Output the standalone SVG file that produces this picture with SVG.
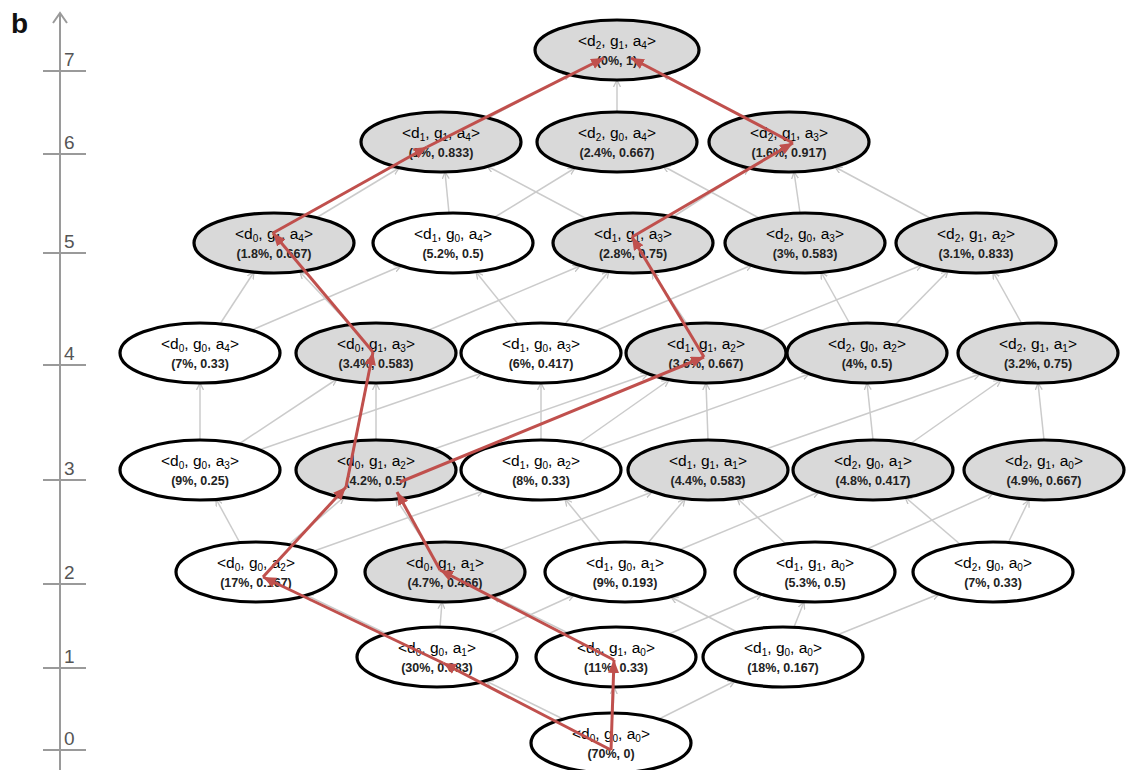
<svg xmlns="http://www.w3.org/2000/svg" width="1128" height="770" viewBox="0 0 1128 770">
<style>
.bg{fill:#fff}
.ax{stroke:#9a9a9a;stroke-width:2;fill:none}
.axl{font-family:"Liberation Sans",Arial,sans-serif;font-size:19px;fill:#555}
.lbl{font-family:"Liberation Sans",Arial,sans-serif;font-size:28px;font-weight:bold;fill:#111}
.gl line{stroke:#cbcbcb;stroke-width:1.5;marker-end:url(#ag)}
.rl line{stroke:#c0504d;stroke-width:3;marker-end:url(#ar)}
.node ellipse{stroke:#000;stroke-width:3.2}
.w{fill:#fff}
.g{fill:#d9d9d9}
.t1{font-family:"Liberation Sans",Arial,sans-serif;font-size:15.5px;text-anchor:middle;fill:#000}
.t2{font-family:"Liberation Sans",Arial,sans-serif;font-size:12.5px;font-weight:bold;text-anchor:middle;fill:#222}
.s{font-size:10px;baseline-shift:-3px}
</style>
<defs>
<marker id="ag" markerWidth="8" markerHeight="8" refX="7" refY="4" orient="auto" markerUnits="userSpaceOnUse"><path d="M0,0.5 L7,4 L0,7.5" fill="none" stroke="#c4c4c4" stroke-width="1.3"/></marker>
<marker id="ar" markerWidth="14" markerHeight="12" refX="13" refY="5.5" orient="auto" markerUnits="userSpaceOnUse"><path d="M0,0 L13,5.5 L0,11 z" fill="#c0504d"/></marker>
</defs>
<rect class="bg" x="0" y="0" width="1128" height="770"/>
<text class="lbl" x="11" y="33">b</text>
<g id="axis">
<line class="ax" x1="60" y1="770" x2="60" y2="14"/>
<path class="ax" d="M53,23 L60,13 L67,23"/>
<line class="ax" x1="43" y1="71" x2="86" y2="71"/>
<line class="ax" x1="43" y1="154" x2="86" y2="154"/>
<line class="ax" x1="43" y1="253" x2="86" y2="253"/>
<line class="ax" x1="43" y1="365" x2="86" y2="365"/>
<line class="ax" x1="43" y1="480" x2="86" y2="480"/>
<line class="ax" x1="43" y1="584" x2="86" y2="584"/>
<line class="ax" x1="43" y1="668" x2="86" y2="668"/>
<line class="ax" x1="43" y1="750" x2="86" y2="750"/>
<text class="axl" x="64" y="66">7</text>
<text class="axl" x="64" y="149">6</text>
<text class="axl" x="64" y="248">5</text>
<text class="axl" x="64" y="360">4</text>
<text class="axl" x="64" y="475">3</text>
<text class="axl" x="64" y="579">2</text>
<text class="axl" x="64" y="663">1</text>
<text class="axl" x="64" y="745">0</text>
</g>
<g id="connectors" class="gl">
<line x1="659" y1="719" x2="735" y2="681"/>
<line x1="563" y1="719" x2="486" y2="681"/>
<line x1="613" y1="713" x2="614" y2="687"/>
<line x1="440" y1="627" x2="442" y2="602"/>
<line x1="488" y1="634" x2="574" y2="595"/>
<line x1="387" y1="634" x2="306" y2="595"/>
<line x1="669" y1="634" x2="762" y2="594"/>
<line x1="568" y1="633" x2="493" y2="596"/>
<line x1="737" y1="632" x2="671" y2="597"/>
<line x1="794" y1="627" x2="804" y2="602"/>
<line x1="837" y1="635" x2="939" y2="594"/>
<line x1="240" y1="543" x2="216" y2="499"/>
<line x1="314" y1="551" x2="483" y2="491"/>
<line x1="288" y1="545" x2="344" y2="497"/>
<line x1="501" y1="550" x2="652" y2="492"/>
<line x1="425" y1="543" x2="396" y2="499"/>
<line x1="601" y1="543" x2="565" y2="499"/>
<line x1="648" y1="543" x2="685" y2="499"/>
<line x1="679" y1="550" x2="819" y2="492"/>
<line x1="786" y1="544" x2="737" y2="498"/>
<line x1="867" y1="549" x2="993" y2="493"/>
<line x1="961" y1="545" x2="905" y2="497"/>
<line x1="1008" y1="543" x2="1029" y2="500"/>
<line x1="200" y1="440" x2="200" y2="383"/>
<line x1="239" y1="444" x2="337" y2="379"/>
<line x1="259" y1="450" x2="482" y2="373"/>
<line x1="376" y1="440" x2="376" y2="383"/>
<line x1="434" y1="449" x2="648" y2="374"/>
<line x1="541" y1="440" x2="541" y2="383"/>
<line x1="578" y1="444" x2="669" y2="380"/>
<line x1="599" y1="449" x2="809" y2="374"/>
<line x1="708" y1="440" x2="706" y2="383"/>
<line x1="766" y1="449" x2="980" y2="374"/>
<line x1="873" y1="440" x2="867" y2="383"/>
<line x1="910" y1="444" x2="1001" y2="380"/>
<line x1="1044" y1="440" x2="1038" y2="383"/>
<line x1="220" y1="324" x2="254" y2="272"/>
<line x1="252" y1="330" x2="401" y2="266"/>
<line x1="350" y1="325" x2="300" y2="272"/>
<line x1="429" y1="330" x2="580" y2="266"/>
<line x1="518" y1="324" x2="476" y2="272"/>
<line x1="565" y1="324" x2="609" y2="271"/>
<line x1="595" y1="331" x2="752" y2="265"/>
<line x1="687" y1="324" x2="652" y2="272"/>
<line x1="760" y1="331" x2="922" y2="265"/>
<line x1="850" y1="324" x2="821" y2="272"/>
<line x1="895" y1="325" x2="948" y2="271"/>
<line x1="1022" y1="324" x2="993" y2="272"/>
<line x1="316" y1="218" x2="399" y2="168"/>
<line x1="449" y1="213" x2="445" y2="172"/>
<line x1="495" y1="217" x2="575" y2="168"/>
<line x1="587" y1="219" x2="487" y2="166"/>
<line x1="673" y1="217" x2="749" y2="168"/>
<line x1="759" y1="218" x2="663" y2="166"/>
<line x1="800" y1="213" x2="794" y2="172"/>
<line x1="930" y1="218" x2="835" y2="167"/>
<line x1="488" y1="118" x2="570" y2="74"/>
<line x1="617" y1="112" x2="617" y2="80"/>
<line x1="743" y1="117" x2="663" y2="74"/>
</g>
<g id="n214" class="node"><ellipse class="g" cx="617" cy="50" rx="82" ry="30"/><text class="t1" x="617" y="46">&lt;d<tspan class="s">2</tspan>, g<tspan class="s">1</tspan>, a<tspan class="s">4</tspan>&gt;</text><text class="t2" x="617" y="65">(0%, 1)</text></g>
<g id="n114" class="node"><ellipse class="g" cx="441" cy="142" rx="80" ry="30"/><text class="t1" x="441" y="138">&lt;d<tspan class="s">1</tspan>, g<tspan class="s">1</tspan>, a<tspan class="s">4</tspan>&gt;</text><text class="t2" x="441" y="157">(1%, 0.833)</text></g>
<g id="n204" class="node"><ellipse class="g" cx="617" cy="142" rx="80" ry="30"/><text class="t1" x="617" y="138">&lt;d<tspan class="s">2</tspan>, g<tspan class="s">0</tspan>, a<tspan class="s">4</tspan>&gt;</text><text class="t2" x="617" y="157">(2.4%, 0.667)</text></g>
<g id="n213" class="node"><ellipse class="g" cx="789" cy="142" rx="80" ry="30"/><text class="t1" x="789" y="138">&lt;d<tspan class="s">2</tspan>, g<tspan class="s">1</tspan>, a<tspan class="s">3</tspan>&gt;</text><text class="t2" x="789" y="157">(1.6%, 0.917)</text></g>
<g id="n014" class="node"><ellipse class="g" cx="274" cy="243" rx="80" ry="30"/><text class="t1" x="274" y="239">&lt;d<tspan class="s">0</tspan>, g<tspan class="s">1</tspan>, a<tspan class="s">4</tspan>&gt;</text><text class="t2" x="274" y="258">(1.8%, 0.667)</text></g>
<g id="n104" class="node"><ellipse class="w" cx="453" cy="243" rx="80" ry="30"/><text class="t1" x="453" y="239">&lt;d<tspan class="s">1</tspan>, g<tspan class="s">0</tspan>, a<tspan class="s">4</tspan>&gt;</text><text class="t2" x="453" y="258">(5.2%, 0.5)</text></g>
<g id="n113" class="node"><ellipse class="g" cx="633" cy="243" rx="80" ry="30"/><text class="t1" x="633" y="239">&lt;d<tspan class="s">1</tspan>, g<tspan class="s">1</tspan>, a<tspan class="s">3</tspan>&gt;</text><text class="t2" x="633" y="258">(2.8%, 0.75)</text></g>
<g id="n203" class="node"><ellipse class="g" cx="805" cy="243" rx="80" ry="30"/><text class="t1" x="805" y="239">&lt;d<tspan class="s">2</tspan>, g<tspan class="s">0</tspan>, a<tspan class="s">3</tspan>&gt;</text><text class="t2" x="805" y="258">(3%, 0.583)</text></g>
<g id="n212" class="node"><ellipse class="g" cx="976" cy="243" rx="80" ry="30"/><text class="t1" x="976" y="239">&lt;d<tspan class="s">2</tspan>, g<tspan class="s">1</tspan>, a<tspan class="s">2</tspan>&gt;</text><text class="t2" x="976" y="258">(3.1%, 0.833)</text></g>
<g id="n004" class="node"><ellipse class="w" cx="200" cy="353" rx="80" ry="30"/><text class="t1" x="200" y="349">&lt;d<tspan class="s">0</tspan>, g<tspan class="s">0</tspan>, a<tspan class="s">4</tspan>&gt;</text><text class="t2" x="200" y="368">(7%, 0.33)</text></g>
<g id="n013" class="node"><ellipse class="g" cx="376" cy="353" rx="80" ry="30"/><text class="t1" x="376" y="349">&lt;d<tspan class="s">0</tspan>, g<tspan class="s">1</tspan>, a<tspan class="s">3</tspan>&gt;</text><text class="t2" x="376" y="368">(3.4%, 0.583)</text></g>
<g id="n103" class="node"><ellipse class="w" cx="541" cy="353" rx="80" ry="30"/><text class="t1" x="541" y="349">&lt;d<tspan class="s">1</tspan>, g<tspan class="s">0</tspan>, a<tspan class="s">3</tspan>&gt;</text><text class="t2" x="541" y="368">(6%, 0.417)</text></g>
<g id="n112" class="node"><ellipse class="g" cx="706" cy="353" rx="80" ry="30"/><text class="t1" x="706" y="349">&lt;d<tspan class="s">1</tspan>, g<tspan class="s">1</tspan>, a<tspan class="s">2</tspan>&gt;</text><text class="t2" x="706" y="368">(3.6%, 0.667)</text></g>
<g id="n202" class="node"><ellipse class="g" cx="867" cy="353" rx="80" ry="30"/><text class="t1" x="867" y="349">&lt;d<tspan class="s">2</tspan>, g<tspan class="s">0</tspan>, a<tspan class="s">2</tspan>&gt;</text><text class="t2" x="867" y="368">(4%, 0.5)</text></g>
<g id="n211" class="node"><ellipse class="g" cx="1038" cy="353" rx="80" ry="30"/><text class="t1" x="1038" y="349">&lt;d<tspan class="s">2</tspan>, g<tspan class="s">1</tspan>, a<tspan class="s">1</tspan>&gt;</text><text class="t2" x="1038" y="368">(3.2%, 0.75)</text></g>
<g id="n003" class="node"><ellipse class="w" cx="200" cy="470" rx="80" ry="30"/><text class="t1" x="200" y="466">&lt;d<tspan class="s">0</tspan>, g<tspan class="s">0</tspan>, a<tspan class="s">3</tspan>&gt;</text><text class="t2" x="200" y="485">(9%, 0.25)</text></g>
<g id="n012" class="node"><ellipse class="g" cx="376" cy="470" rx="80" ry="30"/><text class="t1" x="376" y="466">&lt;d<tspan class="s">0</tspan>, g<tspan class="s">1</tspan>, a<tspan class="s">2</tspan>&gt;</text><text class="t2" x="376" y="485">(4.2%, 0.5)</text></g>
<g id="n102" class="node"><ellipse class="w" cx="541" cy="470" rx="80" ry="30"/><text class="t1" x="541" y="466">&lt;d<tspan class="s">1</tspan>, g<tspan class="s">0</tspan>, a<tspan class="s">2</tspan>&gt;</text><text class="t2" x="541" y="485">(8%, 0.33)</text></g>
<g id="n111" class="node"><ellipse class="g" cx="708" cy="470" rx="80" ry="30"/><text class="t1" x="708" y="466">&lt;d<tspan class="s">1</tspan>, g<tspan class="s">1</tspan>, a<tspan class="s">1</tspan>&gt;</text><text class="t2" x="708" y="485">(4.4%, 0.583)</text></g>
<g id="n201" class="node"><ellipse class="g" cx="873" cy="470" rx="80" ry="30"/><text class="t1" x="873" y="466">&lt;d<tspan class="s">2</tspan>, g<tspan class="s">0</tspan>, a<tspan class="s">1</tspan>&gt;</text><text class="t2" x="873" y="485">(4.8%, 0.417)</text></g>
<g id="n210" class="node"><ellipse class="g" cx="1044" cy="470" rx="80" ry="30"/><text class="t1" x="1044" y="466">&lt;d<tspan class="s">2</tspan>, g<tspan class="s">1</tspan>, a<tspan class="s">0</tspan>&gt;</text><text class="t2" x="1044" y="485">(4.9%, 0.667)</text></g>
<g id="n002" class="node"><ellipse class="w" cx="256" cy="572" rx="80" ry="30"/><text class="t1" x="256" y="568">&lt;d<tspan class="s">0</tspan>, g<tspan class="s">0</tspan>, a<tspan class="s">2</tspan>&gt;</text><text class="t2" x="256" y="587">(17%, 0.167)</text></g>
<g id="n011" class="node"><ellipse class="g" cx="445" cy="572" rx="80" ry="30"/><text class="t1" x="445" y="568">&lt;d<tspan class="s">0</tspan>, g<tspan class="s">1</tspan>, a<tspan class="s">1</tspan>&gt;</text><text class="t2" x="445" y="587">(4.7%, 0.466)</text></g>
<g id="n101" class="node"><ellipse class="w" cx="625" cy="572" rx="80" ry="30"/><text class="t1" x="625" y="568">&lt;d<tspan class="s">1</tspan>, g<tspan class="s">0</tspan>, a<tspan class="s">1</tspan>&gt;</text><text class="t2" x="625" y="587">(9%, 0.193)</text></g>
<g id="n110" class="node"><ellipse class="w" cx="815" cy="572" rx="80" ry="30"/><text class="t1" x="815" y="568">&lt;d<tspan class="s">1</tspan>, g<tspan class="s">1</tspan>, a<tspan class="s">0</tspan>&gt;</text><text class="t2" x="815" y="587">(5.3%, 0.5)</text></g>
<g id="n200" class="node"><ellipse class="w" cx="993" cy="572" rx="80" ry="30"/><text class="t1" x="993" y="568">&lt;d<tspan class="s">2</tspan>, g<tspan class="s">0</tspan>, a<tspan class="s">0</tspan>&gt;</text><text class="t2" x="993" y="587">(7%, 0.33)</text></g>
<g id="n001" class="node"><ellipse class="w" cx="437" cy="657" rx="80" ry="30"/><text class="t1" x="437" y="653">&lt;d<tspan class="s">0</tspan>, g<tspan class="s">0</tspan>, a<tspan class="s">1</tspan>&gt;</text><text class="t2" x="437" y="672">(30%, 0.083)</text></g>
<g id="n010" class="node"><ellipse class="w" cx="616" cy="657" rx="80" ry="30"/><text class="t1" x="616" y="653">&lt;d<tspan class="s">0</tspan>, g<tspan class="s">1</tspan>, a<tspan class="s">0</tspan>&gt;</text><text class="t2" x="616" y="672">(11%, 0.33)</text></g>
<g id="n100" class="node"><ellipse class="w" cx="783" cy="657" rx="80" ry="30"/><text class="t1" x="783" y="653">&lt;d<tspan class="s">1</tspan>, g<tspan class="s">0</tspan>, a<tspan class="s">0</tspan>&gt;</text><text class="t2" x="783" y="672">(18%, 0.167)</text></g>
<g id="n000" class="node"><ellipse class="w" cx="611" cy="743" rx="80" ry="30"/><text class="t1" x="611" y="739">&lt;d<tspan class="s">0</tspan>, g<tspan class="s">0</tspan>, a<tspan class="s">0</tspan>&gt;</text><text class="t2" x="611" y="758">(70%, 0)</text></g>
<g id="path-connectors" class="rl">
<line x1="611" y1="750" x2="443" y2="663"/>
<line x1="443" y1="663" x2="263" y2="577"/>
<line x1="263" y1="577" x2="346" y2="487"/>
<line x1="346" y1="487" x2="373" y2="352"/>
<line x1="373" y1="352" x2="273" y2="233"/>
<line x1="273" y1="233" x2="427" y2="147"/>
<line x1="427" y1="147" x2="604" y2="58"/>
<line x1="611" y1="750" x2="614" y2="660"/>
<line x1="614" y1="660" x2="440" y2="570"/>
<line x1="440" y1="570" x2="397" y2="492"/>
<line x1="400" y1="482" x2="704" y2="357"/>
<line x1="704" y1="357" x2="632" y2="237"/>
<line x1="632" y1="237" x2="793" y2="143"/>
<line x1="793" y1="143" x2="631" y2="58"/>
</g>
</svg>
